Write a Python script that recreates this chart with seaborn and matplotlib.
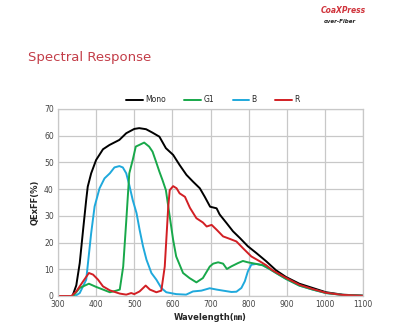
import numpy as np
import pandas as pd
import matplotlib
matplotlib.use("Agg")
import matplotlib.pyplot as plt
import seaborn as sns

# ---- data ----
mono_wl = [300, 338, 348, 357, 366, 374, 378, 387, 400, 418, 435, 461, 479, 500, 513, 531, 548, 566,
           583, 602, 619, 637, 654, 672, 685, 699, 716, 724, 742, 759, 777, 798, 820, 846, 872, 898,
           933, 968, 1003, 1046, 1100]
mono_qe = [0, 0, 4, 12.3, 25, 36, 40.9, 45.9, 50.9, 54.9, 56.5, 58.4, 60.9, 62.5, 62.8, 62.4, 61.1, 59.6,
           55.3, 52.8, 49, 45.3, 42.8, 40.3, 37.1, 33.4, 32.8, 30.5, 27.3, 24.2, 21.7, 18.6, 16.1, 13, 9.6, 7.1,
           4.6, 3, 1.4, 0.5, 0.1]

g1_wl = [300, 340, 357, 381, 400, 418, 436, 453, 462, 471, 479, 487, 496, 504, 513, 526, 539, 548, 557,
         566, 574, 583, 593, 602, 610, 628, 645, 663, 680, 698, 707, 720, 733, 743, 755, 772, 785, 798,
         820, 837, 855, 872, 898, 933, 968, 1003, 1046, 1100]
g1_qe = [0, 0, 3, 4.6, 3.4, 2.4, 1.4, 2, 2.4, 11, 28, 45.9, 50.9, 55.9, 56.5, 57.4, 55.9, 54, 50.3,
         46.5, 43.4, 39.6, 29.8, 21, 14.8, 8.6, 6.7, 5.1, 6.7, 11, 12.1, 12.6, 12.1, 10.1, 11.1, 12.3, 13.1, 12.6,
         12, 11.5, 10.1, 8.6, 6.4, 3.9, 2.4, 1.1, 0.4, 0.1]

b_wl = [300, 345, 357, 374, 387, 396, 409, 422, 436, 448, 461, 470, 479, 487, 496, 506, 514, 523, 532,
        545, 558, 571, 584, 610, 636, 654, 676, 698, 716, 733, 755, 768, 781, 790, 798, 807, 820, 837,
        855, 872, 898, 933, 968, 1003, 1046, 1100]
b_qe = [0, 0, 1.1, 6.1, 23.5, 33.5, 40.3, 44, 45.9, 48.1, 48.6, 48.1, 45.9, 41.5, 35.9, 31, 24.8, 18.6, 13.6,
        8.6, 6.1, 3, 1.4, 0.7, 0.5, 1.7, 2, 2.9, 2.4, 2, 1.5, 1.6, 3, 5.5, 9.2, 11.7, 12, 11.5,
        10.1, 8.6, 6.4, 3.9, 2.4, 1.1, 0.4, 0.1]

r_wl = [300, 335, 348, 366, 381, 392, 405, 418, 436, 462, 479, 492, 500, 514, 530, 541, 558, 571, 580,
        589, 593, 602, 611, 619, 633, 646, 663, 680, 690, 703, 716, 733, 750, 768, 785, 807, 829, 846,
        863, 898, 933, 968, 1003, 1046, 1100]
r_qe = [0, 0, 1.7, 5.5, 8.6, 8, 6.1, 3.6, 2.1, 0.9, 0.5, 1.1, 0.7, 1.7, 3.9, 2.4, 1.4, 2, 11,
        33, 39.6, 41.1, 40.3, 38.4, 37.1, 33, 29.1, 27.5, 26, 26.6, 24.8, 22.3, 21.4, 20.4, 17.9, 14.8, 13, 11.5,
        9.6, 6.8, 4.2, 2.6, 1.2, 0.4, 0.1]

series_names = ["Mono", "G1", "B", "R"]
series_colors = {"Mono": "#000000", "G1": "#18a84a", "B": "#1fa9dc", "R": "#d21f24"}
x_ticks = [300, 400, 500, 600, 700, 800, 900, 1000, 1100]
y_ticks = [0, 10, 20, 30, 40, 50, 60, 70]

frames = []
for name, wl, qe in zip(series_names, [mono_wl, g1_wl, b_wl, r_wl], [mono_qe, g1_qe, b_qe, r_qe]):
    frames.append(pd.DataFrame({"wl": wl, "qe": qe, "series": name}))
df = pd.concat(frames, ignore_index=True)

sns.set_theme(style="white")
plt.rcParams['font.family'] = ['DejaVu Sans', 'Noto Sans CJK JP']

fig = plt.figure(figsize=(4.0, 3.28), dpi=100)
ax = fig.add_axes([0.145, 0.0976, 0.7625, 0.5704])

for name in ["Mono", "B", "G1", "R"]:
    sub = df[df["series"] == name]
    sns.lineplot(data=sub, x="wl", y="qe", color=series_colors[name], lw=1.4, sort=False, ax=ax, label=name)

ax.set_xlim(300, 1100)
ax.set_ylim(0, 70)
ax.set_xticks(x_ticks)
ax.set_yticks(y_ticks)
ax.grid(True, color="#c8c8c8", lw=0.9)
ax.set_axisbelow(True)
for s in ax.spines.values():
    s.set_color("#c8c8c8")
    s.set_linewidth(0.9)
ax.tick_params(axis="both", labelsize=5.5, colors="#444444", length=0, pad=3)
ax.set_xlabel("Wavelength(㎚)", fontsize=6, fontweight="bold", labelpad=3)
ax.set_ylabel("QExFF(%)", fontsize=6, fontweight="bold", labelpad=3)

handles, labels = ax.get_legend_handles_labels()
order = [labels.index(n) for n in series_names]
ax.legend([handles[i] for i in order], [labels[i] for i in order], ncol=4, loc="lower center",
          bbox_to_anchor=(0.508, 1.0), frameon=False, fontsize=5.5, handlelength=2.2,
          columnspacing=2.4, handletextpad=0.3, borderaxespad=0.2)

fig.text(0.07, 0.825, "Spectral Response", fontsize=9.5, color="#c33d48", va="center", ha="left")
fig.text(0.915, 0.968, "CoaXPress", fontsize=5.5, color="#d0343c", fontweight="bold", style="italic",
         ha="right", va="center")
fig.text(0.89, 0.935, "over-Fiber", fontsize=4, color="#222222", fontweight="bold", style="italic",
         ha="right", va="center")

fig.savefig("out.png", dpi=100, facecolor="white")
